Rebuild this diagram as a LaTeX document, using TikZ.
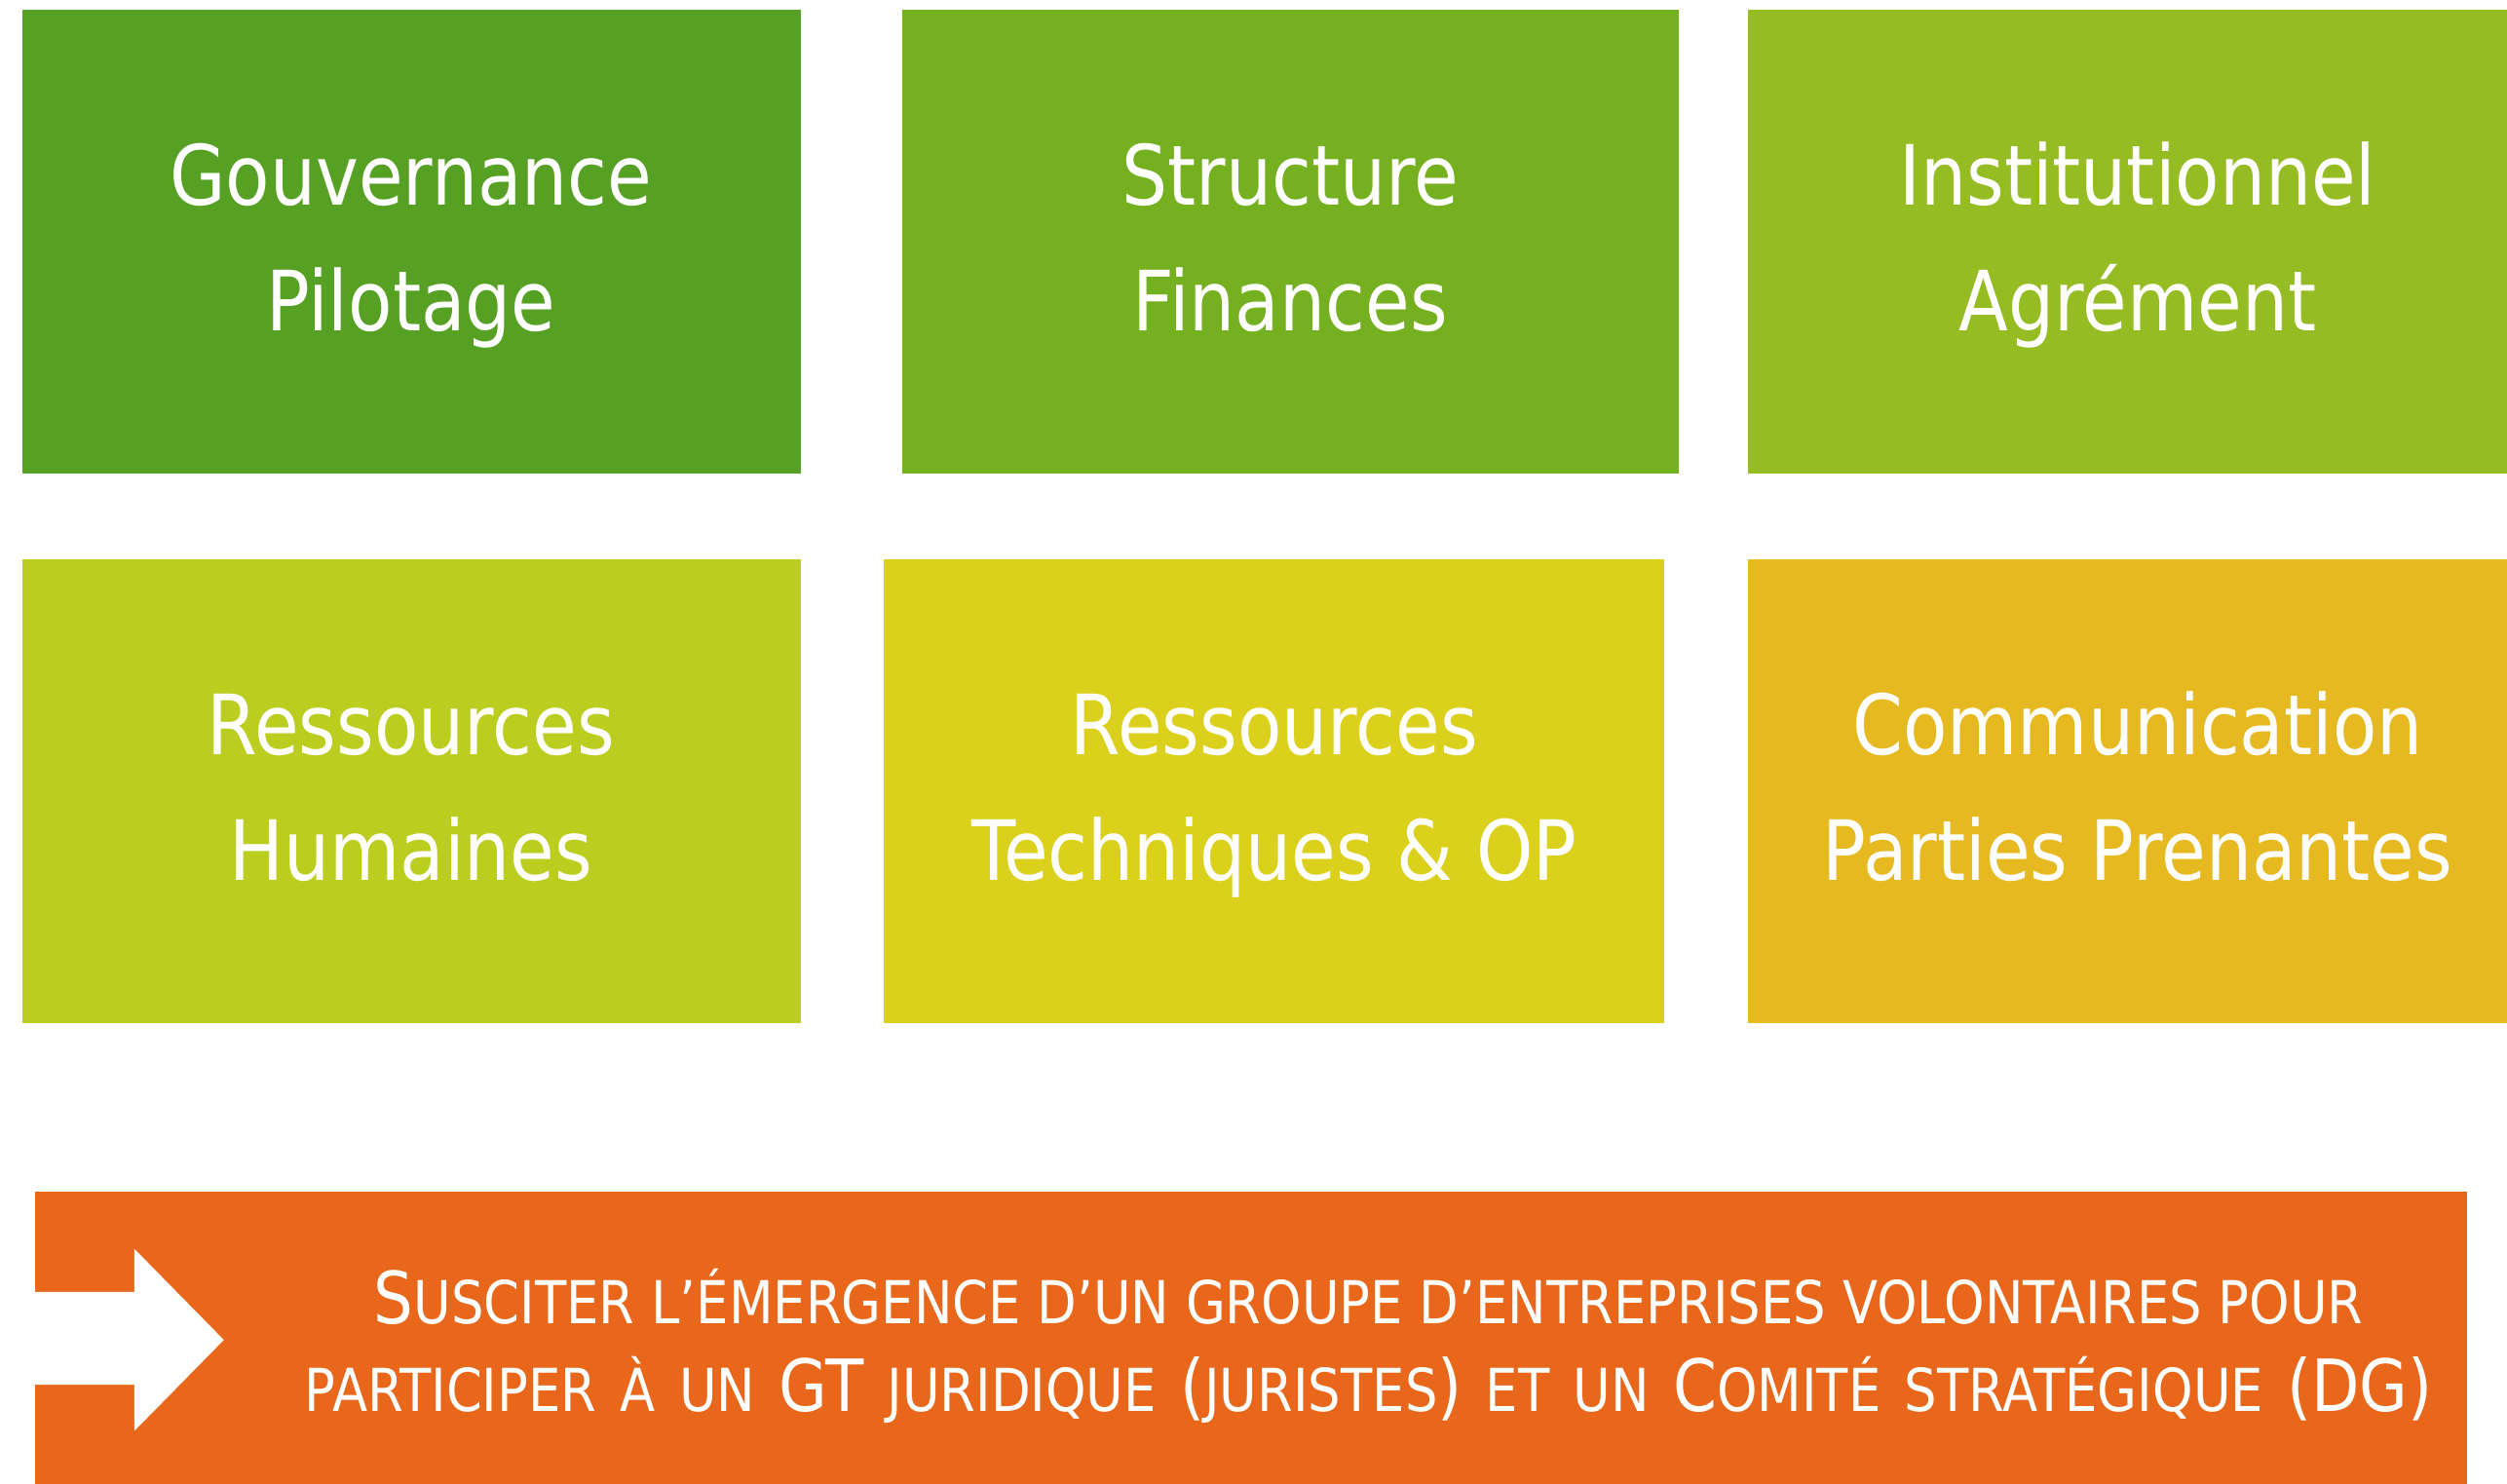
\documentclass[tikz,border=0pt]{standalone}
\usepackage{fontspec}
\setmainfont{DejaVu Sans}[FakeStretch=0.87]
\definecolor{c1}{HTML}{56A024}
\definecolor{c2}{HTML}{75B021}
\definecolor{c3}{HTML}{95BC22}
\definecolor{c4}{HTML}{BBCD1F}
\definecolor{c5}{HTML}{DBD11D}
\definecolor{c6}{HTML}{E5B91F}
\definecolor{corange}{HTML}{E8671A}
\newcommand\smc[1]{{\fontsize{37}{44}\selectfont #1}}
\newcommand\wsp{\hspace{14.8pt}}
\begin{document}
\begin{tikzpicture}[x=1pt,y=-1pt,
  tile/.style={draw=none,inner sep=0pt},
  ttxt/.style={text=white,font=\fontsize{52}{60}\selectfont,anchor=base,inner sep=0pt},
  btxt/.style={text=white,font=\fontsize{45}{55}\selectfont,anchor=base,inner sep=0pt}]
\useasboundingbox (0,0) rectangle (1568,928);
\clip (0,0) rectangle (1568,928);
% tiles
\fill[c1] (14,6) rectangle (501,296) coordinate (b1);
\fill[c2] (564,6) rectangle (1050,296) coordinate (b2);
\fill[c3] (1093,6) rectangle (1580,296) coordinate (b3);
\fill[c4] (14,350) rectangle (501,640) coordinate (b4);
\fill[c5] (553,350) rectangle (1041,640) coordinate (b5);
\fill[c6] (1093,350) rectangle (1580,640) coordinate (b6);
% tile texts
\node[ttxt] (t1a) at (257,128) {Gouvernance};
\node[ttxt] (t1b) at (257,206.6) {Pilotage};
\node[ttxt] (t2a) at (807,128) {Structure};
\node[ttxt] (t2b) at (807,206.6) {Finances};
\node[ttxt] (t3a) at (1337,128) {Institutionnel};
\node[ttxt] (t3b) at (1337,206.6) {Agrément};
\node[ttxt] (t4a) at (257,472) {Ressources};
\node[ttxt] (t4b) at (257,550.6) {Humaines};
\node[ttxt] (t5a) at (797,472) {Ressources};
\node[ttxt] (t5b) at (797,550.6) {Techniques \& OP};
\node[ttxt] (t6a) at (1337,472) {Communication};
\node[ttxt] (t6b) at (1337,550.6) {Parties Prenantes};
% bottom banner
\fill[corange] (22,745) rectangle (1543,940);
\fill[white] (22,808) -- (84,808) -- (84,781) -- (140,838) -- (84,895) -- (84,866) -- (22,866) -- cycle;
\node[btxt] (l1) at (856,828) {S\smc{USCITER L’ÉMERGENCE D’UN GROUPE D’ENTREPRISES VOLONTAIRES POUR}};
\node[btxt] (l2) at (856,883) {\smc{PARTICIPER}\wsp\smc{À}\wsp\smc{UN}\wsp GT\wsp\smc{JURIDIQUE}\wsp(\smc{JURISTES})\wsp\smc{ET}\wsp\smc{UN}\wsp C\smc{OMITÉ}\wsp\smc{STRATÉGIQUE}\wsp(DG)};
\end{tikzpicture}
\end{document}
